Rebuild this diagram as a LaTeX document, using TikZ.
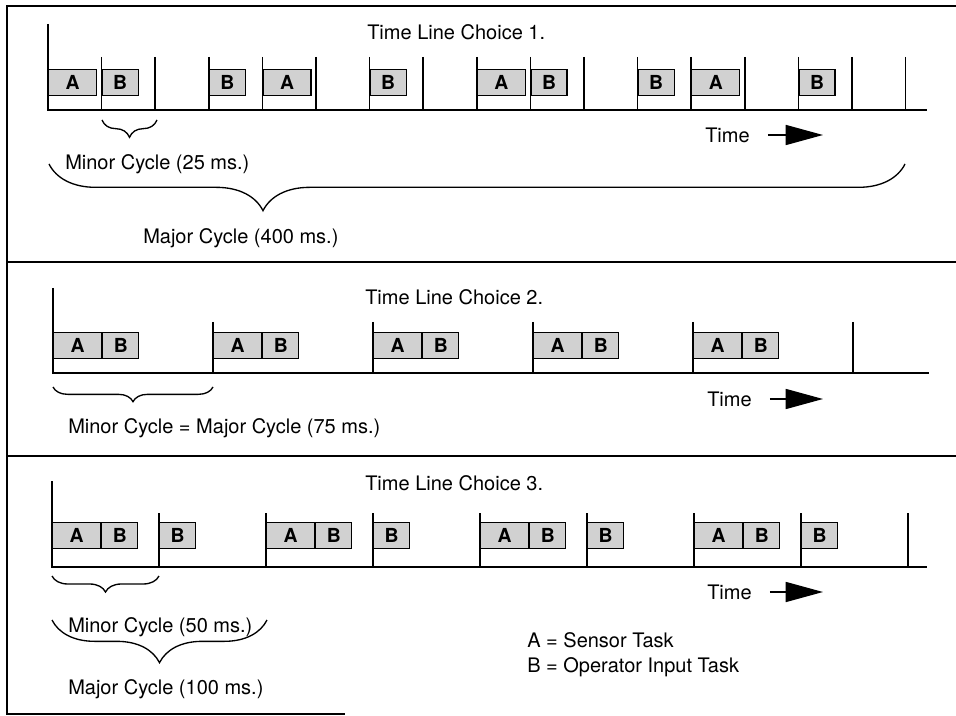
\documentclass[tikz,border=0pt]{standalone}
\usepackage{fontspec}
\setmainfont{TeX Gyre Heros}
\usetikzlibrary{arrows.meta,calc,decorations.pathreplacing}
\tikzset{
  frame/.style={line width=2pt},
  axis/.style={line width=1.8pt},
  tick/.style={line width=1.1pt},
  task/.style={rectangle,draw=black,line width=0.9pt,fill=black!18,
    minimum height=19.5pt,inner sep=0pt,anchor=south west,
    font=\fontsize{14.5}{14.5}\selectfont\bfseries},
  taskA/.style={task,minimum width=36pt},
  taskB/.style={task,minimum width=27pt},
  lab/.style={anchor=west,inner sep=0pt,font=\fontsize{15}{18}\selectfont},
  cbrace/.style={decorate,decoration={brace,mirror,amplitude=#1},line width=1pt},
  timearr/.style={-{Triangle[length=28pt,width=15pt]},line width=1.2pt}
}
\begin{document}
\begin{tikzpicture}[x=0.75pt,y=-0.75pt]
 \useasboundingbox (0,0) rectangle (956,716);
 % outer frame and panel dividers
 \draw[frame] (956,6) -- (7,6) -- (7,714) -- (345,714);
 \draw[frame] (7,262) -- (956,262) (7,456) -- (956,456);
 % choice 1: minor cycle 25 ms, sixteen slots
 \begin{scope}
  \node[lab] (title1) at (367,32) {Time Line Choice 1.};
  \draw[axis] (48,24) -- (48,110) -- (927,110);
  \foreach \k in {1,...,16}
    \draw[tick] ({48+53.6*\k},57) -- ({48+53.6*\k},110);
  \foreach \s/\t in {0/A,1/B,3/B,4/A,6/B,8/A,9/B,11/B,12/A,14/B}
    \node[task\t] (c1-\s) at ({48+53.6*\s},96) {\t};
  \draw[cbrace=13pt] (102,120) -- (157,120);
  \node[lab] (minor1) at (65,164) {Minor Cycle (25 ms.)};
  \draw[decorate,decoration={brace,mirror,amplitude=35pt,aspect=0.25},line width=1pt]
    (49,164) -- (905,164);
  \node[lab] (major1) at (143,238) {Major Cycle (400 ms.)};
  \node[lab] (time1) at (705,135) {Time};
  \coordinate (tip1) at (823,135);
  \draw[timearr] ($(time1.east)+(18,0)$) -- (tip1);
 \end{scope}
 % choice 2: one slot holds both tasks
 \begin{scope}
  \node[lab] (title2) at (365,297) {Time Line Choice 2.};
  \draw[axis] (53,288) -- (53,373) -- (929,373);
  \foreach \k in {1,...,5}
    \draw[tick] ({53+160*\k},322) -- ({53+160*\k},373);
  \foreach \k in {0,...,4}{
    \node[taskA] (c2a-\k) at ({53+160*\k},359) {A};
    \node[taskB] (c2b-\k) at (c2a-\k.south east) {B};
  }
  \draw[cbrace=11pt] (53,387) -- (213,387);
  \node[lab] (minor2) at (68,428) {Minor Cycle = Major Cycle (75 ms.)};
  \node[lab] (time2) at (707,399) {Time};
  \coordinate (tip2) at (823,399);
  \draw[timearr] ($(time2.east)+(18,0)$) -- (tip2);
 \end{scope}
 % choice 3: minor cycle 50 ms, sensor task every other slot
 \begin{scope}
  \node[lab] (title3) at (365,483) {Time Line Choice 3.};
  \draw[axis] (52,481) -- (52,567) -- (927,567);
  \foreach \k in {1,...,8}
    \draw[tick] ({52+107*\k},513) -- ({52+107*\k},567);
  \foreach \k in {0,2,4,6}{
    \node[taskA] (c3a-\k) at ({52+107*\k},549) {A};
    \node[taskB] (c3b-\k) at (c3a-\k.south east) {B};
  }
  \foreach \k in {1,3,5,7}
    \node[taskB] (c3b-\k) at ({52+107*\k},549) {B};
  \draw[cbrace=12pt] (52,576) -- (159,576);
  \node[lab] (minor3) at (68,627) {Minor Cycle (50 ms.)};
  \draw[cbrace=32pt] (52,620) -- (267,620);
  \node[lab] (major3) at (68,689) {Major Cycle (100 ms.)};
  \node[lab] (time3) at (707,592) {Time};
  \coordinate (tip3) at (823,592);
  \draw[timearr] ($(time3.east)+(18,0)$) -- (tip3);
  % legend
  \node[lab] (keyA) at (527,640) {A = Sensor Task};
  \node[lab] (keyB) at (527,667) {B = Operator Input Task};
 \end{scope}
\end{tikzpicture}
\end{document}
